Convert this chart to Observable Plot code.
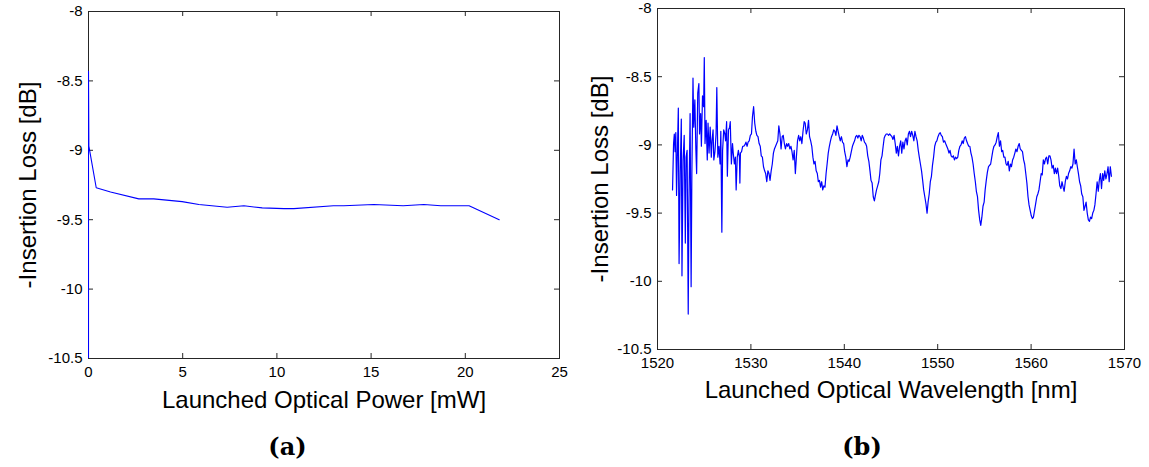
<!DOCTYPE html>
<html><head><meta charset="utf-8">
<script src="https://cdn.jsdelivr.net/npm/d3@7"></script>
<script src="https://cdn.jsdelivr.net/npm/@observablehq/plot@0.6"></script>
<style>
body{margin:0;background:#fff;}
#wrap{position:relative;width:1149px;height:467px;overflow:hidden;background:#fff;}
.panel{position:absolute;top:0;height:467px;}
.cap{position:absolute;top:432px;left:0;width:100%;text-align:center;line-height:30px;font-family:"DejaVu Serif",serif;font-weight:bold;font-size:24px;color:#000;}
</style></head><body>
<div id="wrap">
  <div class="panel" id="pa" style="left:0;width:575px"><div class="cap">(a)</div></div>
  <div class="panel" id="pb" style="left:575px;width:574px"><div class="cap">(b)</div></div>
</div>
<script>
// ---------- data ----------
const lossTicks = [-10.5, -10, -9.5, -9, -8.5, -8];
const powerTicks = [0, 5, 10, 15, 20, 25];
const wavelengthTicks = [1520, 1530, 1540, 1550, 1560, 1570];

const yLabel = "-Insertion Loss [dB]";
const xLabelA = "Launched Optical Power [mW]";
const xLabelB = "Launched Optical Wavelength [nm]";

// panel (a)
const power = [0, 0, 0.02, 0.41, 1.17, 2.67, 3.46, 4.97, 5.86, 7.36, 8.25, 9.22, 10.37, 10.9, 13.0, 13.55, 15.14, 16.7, 17.8, 18.7, 20.2, 21.8];
const lossA = [-10.5, -8.43, -8.97, -9.27, -9.30, -9.35, -9.35, -9.37, -9.39, -9.41, -9.40, -9.415, -9.42, -9.42, -9.40, -9.40, -9.39, -9.40, -9.39, -9.40, -9.40, -9.50];

// panel (b)
const wavelength = [
1521.61,1521.72,1521.80,1521.88,1521.96,1522.04,1522.12,1522.23,1522.31,1522.43,
1522.55,1522.62,1522.74,1522.86,1522.98,1523.06,1523.17,1523.29,1523.37,1523.49,
1523.60,1523.68,1523.80,1523.88,1524.00,1524.11,1524.19,1524.31,1524.43,1524.50,
1524.62,1524.70,1524.82,1524.94,1525.01,1525.09,1525.21,1525.33,1525.41,1525.52,
1525.64,1525.76,1525.84,1525.95,1526.03,1526.15,1526.27,1526.35,1526.46,1526.58,
1526.70,1526.78,1526.89,1526.97,1527.09,1527.21,1527.29,1527.40,1527.48,1527.60,
1527.72,1527.79,1527.91,1528.03,1528.11,1528.23,1528.34,1528.42,1528.54,1528.66,
1528.77,1528.82,
1528.88,1529.00,1529.12,1529.23,1529.35,1529.47,1529.59,1529.70,1529.82,1529.94,1530.06,1530.17,
1530.29,1530.41,1530.53,1530.64,1530.76,1530.88,1531.00,1531.11,1531.23,1531.35,1531.47,1531.58,
1531.70,1531.82,1531.94,1532.05,1532.17,1532.29,1532.41,1532.52,1532.64,1532.76,1532.88,1532.99,
1533.11,1533.23,1533.35,1533.46,1533.58,1533.70,1533.82,1533.93,1534.05,1534.17,1534.29,1534.40,
1534.52,1534.64,1534.76,1534.87,1534.99,1535.11,1535.23,1535.34,1535.46,1535.58,1535.70,1535.81,
1535.93,1536.05,1536.17,1536.28,1536.40,1536.52,1536.64,1536.75,1536.87,1536.99,1537.11,1537.22,
1537.34,1537.46,1537.58,1537.69,1537.81,1537.93,1538.05,1538.16,1538.28,1538.40,1538.52,1538.63,
1538.75,1538.87,1538.99,1539.10,1539.22,1539.34,1539.46,1539.57,1539.69,1539.81,1539.93,1540.04,
1540.16,1540.28,1540.40,1540.51,1540.63,1540.75,1540.87,1540.98,1541.10,1541.22,1541.34,1541.45,
1541.57,1541.69,1541.81,1541.92,1542.04,1542.16,1542.28,1542.39,1542.51,1542.63,1542.75,1542.86,
1542.98,1543.10,1543.22,1543.33,1543.45,1543.57,1543.69,1543.80,1543.92,1544.04,1544.16,1544.27,
1544.39,1544.51,1544.63,1544.74,1544.86,1544.98,1545.10,1545.21,1545.33,1545.45,1545.57,1545.68,
1545.80,1545.92,1546.04,1546.15,1546.27,1546.39,1546.51,1546.62,1546.74,1546.86,1546.98,1547.09,
1547.21,1547.33,1547.45,1547.56,1547.68,1547.80,1547.92,1548.03,1548.15,1548.27,1548.39,1548.50,
1548.62,1548.74,1548.86,1548.97,1549.09,1549.21,1549.33,1549.44,1549.56,1549.68,1549.80,1549.91,
1550.03,1550.15,1550.27,1550.38,1550.50,1550.62,1550.74,1550.85,1550.97,1551.09,1551.21,1551.32,
1551.44,1551.56,1551.68,1551.79,1551.91,1552.03,1552.15,1552.26,1552.38,1552.50,1552.62,1552.73,
1552.85,1552.97,1553.09,1553.20,1553.32,1553.44,1553.56,1553.67,1553.79,1553.91,1554.03,1554.14,
1554.26,1554.38,1554.50,1554.61,1554.73,1554.85,1554.97,1555.08,1555.20,1555.32,1555.44,1555.55,
1555.67,1555.79,1555.91,1556.02,1556.14,1556.26,1556.38,1556.49,1556.61,1556.73,1556.85,1556.96,
1557.08,1557.20,1557.32,1557.43,1557.55,1557.67,1557.79,1557.90,1558.02,1558.14,1558.26,1558.37,
1558.49,1558.61,1558.73,1558.84,1558.96,1559.08,1559.20,1559.31,1559.43,1559.55,1559.67,1559.78,
1559.90,1560.02,1560.14,1560.25,1560.37,1560.49,1560.61,1560.72,1560.84,1560.96,1561.08,1561.19,
1561.31,1561.43,1561.55,1561.66,1561.78,1561.90,1562.02,1562.13,1562.25,1562.37,1562.49,1562.60,
1562.72,1562.84,1562.96,1563.07,1563.19,1563.31,1563.43,1563.54,1563.66,1563.78,1563.90,1564.01,
1564.13,1564.25,1564.37,1564.48,1564.60,1564.72,1564.84,1564.95,1565.07,1565.19,1565.31,1565.42,
1565.54,1565.66,1565.78,1565.89,1566.01,1566.13,1566.25,1566.36,1566.48,1566.60,1566.72,1566.83,
1566.95,1567.07,1567.19,1567.30,1567.42,1567.54,1567.66,1567.77,1567.89,1568.01,1568.13,1568.24,
1568.36,1568.48,1568.60
];
const lossB = [
-9.33,-8.99,-8.92,-9.05,-8.91,-9.37,-9.09,-8.73,-9.87,-9.21,
-8.81,-9.96,-9.11,-8.93,-9.72,-9.09,-9.04,-10.24,-9.41,-8.77,
-10.04,-9.21,-8.51,-8.87,-8.67,-9.04,-9.21,-8.62,-8.55,-8.92,
-8.77,-9.01,-8.64,-8.72,-8.36,-8.99,-8.82,-9.11,-8.84,-9.06,
-8.87,-9.09,-8.97,-8.89,-9.11,-9.05,-8.92,-8.58,-9.09,-9.01,
-9.14,-8.90,-9.64,-9.04,-8.89,-8.92,-8.97,-8.83,-9.23,-8.89,
-8.87,-8.83,-9.14,-8.99,-9.06,-9.14,-9.09,-9.33,-9.09,-9.04,
-9.09,-9.28,
-9.06,-9.05,-9.01,-9.01,-9.00,-8.98,-9.01,-8.98,-8.97,-8.93,
-8.92,-8.79,-8.72,-8.84,-8.90,-8.93,-8.94,-8.99,-9.01,-9.08,
-9.09,-9.16,-9.19,-9.21,-9.27,-9.19,-9.21,-9.26,-9.19,-9.14,
-9.06,-9.03,-9.01,-8.99,-8.97,-8.86,-8.92,-9.03,-8.94,-8.93,
-8.99,-9.03,-8.99,-9.01,-8.99,-9.03,-9.01,-9.05,-9.11,-9.04,
-9.21,-9.09,-8.97,-8.93,-8.97,-8.94,-8.99,-8.90,-8.83,-8.84,
-8.92,-8.89,-8.82,-8.94,-8.97,-9.01,-9.09,-9.14,-9.12,-9.19,
-9.21,-9.27,-9.26,-9.31,-9.27,-9.33,-9.30,-9.31,-9.21,-9.14,
-9.06,-9.01,-8.97,-8.94,-8.92,-8.89,-8.90,-8.93,-8.86,-8.90,
-8.94,-8.97,-8.94,-8.98,-8.99,-9.05,-9.09,-9.16,-9.11,-9.12,
-9.09,-9.05,-9.01,-8.99,-8.97,-8.94,-8.93,-8.95,-8.93,-8.94,
-8.97,-8.93,-8.95,-8.98,-8.99,-9.01,-9.08,-9.12,-9.19,-9.26,
-9.28,-9.38,-9.41,-9.37,-9.33,-9.30,-9.27,-9.21,-9.11,-9.08,
-9.01,-8.95,-8.93,-8.92,-8.92,-8.93,-8.92,-8.93,-8.94,-8.96,
-8.93,-8.99,-9.06,-9.01,-9.08,-9.01,-8.97,-9.06,-8.98,-9.03,
-8.97,-8.95,-9.00,-8.92,-8.90,-8.94,-8.90,-8.93,-8.97,-8.90,
-8.94,-8.97,-9.04,-9.09,-9.14,-9.19,-9.26,-9.33,-9.38,-9.43,
-9.50,-9.42,-9.36,-9.27,-9.23,-9.15,-9.09,-9.01,-8.98,-8.97,
-8.94,-8.92,-8.91,-8.93,-8.94,-8.98,-8.97,-8.99,-9.01,-9.03,
-9.06,-9.04,-9.08,-9.09,-9.08,-9.11,-9.09,-9.10,-9.09,-9.04,
-9.01,-9.00,-8.97,-8.99,-8.95,-8.94,-8.97,-8.99,-9.01,-9.01,
-9.06,-9.09,-9.14,-9.21,-9.27,-9.34,-9.38,-9.48,-9.55,-9.59,
-9.53,-9.45,-9.42,-9.33,-9.26,-9.20,-9.16,-9.15,-9.14,-9.09,
-9.04,-9.01,-9.00,-8.98,-8.94,-8.91,-9.01,-8.97,-9.05,-9.04,
-9.09,-9.09,-9.14,-9.15,-9.12,-9.19,-9.14,-9.16,-9.11,-9.09,
-9.06,-9.03,-9.05,-9.01,-8.99,-9.03,-9.04,-9.05,-9.11,-9.14,
-9.21,-9.28,-9.38,-9.44,-9.48,-9.52,-9.54,-9.53,-9.48,-9.43,
-9.38,-9.36,-9.33,-9.27,-9.21,-9.22,-9.11,-9.14,-9.10,-9.09,
-9.14,-9.08,-9.08,-9.11,-9.17,-9.15,-9.21,-9.17,-9.21,-9.17,
-9.23,-9.30,-9.32,-9.27,-9.31,-9.34,-9.27,-9.23,-9.25,-9.21,
-9.19,-9.16,-9.17,-9.14,-9.03,-9.14,-9.11,-9.16,-9.21,-9.27,
-9.30,-9.36,-9.38,-9.48,-9.45,-9.42,-9.50,-9.55,-9.56,-9.53,
-9.54,-9.50,-9.48,-9.44,-9.36,-9.27,-9.34,-9.26,-9.21,-9.32,
-9.21,-9.26,-9.19,-9.25,-9.21,-9.16,-9.27,-9.16,-9.23
];

// ---------- drawing ----------
function panel(el, o) {
  const H = 415;
  const ph = H - o.mt - o.mb, pw = o.width - o.ml - o.mr;
  const axisColor = "#262626";
  const fmt = d => String(d);
  const chart = Plot.plot({
    width: o.width, height: H,
    marginLeft: o.ml, marginRight: o.mr, marginTop: o.mt, marginBottom: o.mb,
    x: {domain: o.xDomain}, y: {domain: [-10.5, -8]},
    style: {fontFamily: '"Liberation Sans", Arial, sans-serif', fontSize: "15px", color: "#000", background: "#fff", overflow: "visible"},
    marks: [
      Plot.frame({stroke: axisColor}),
      Plot.tickX(o.xTicks, {x: d => d, insetTop: ph - 5, stroke: axisColor}),
      Plot.tickX(o.xTicks, {x: d => d, insetBottom: ph - 5, stroke: axisColor}),
      Plot.tickY(lossTicks, {y: d => d, insetRight: pw - 5, stroke: axisColor}),
      Plot.tickY(lossTicks, {y: d => d, insetLeft: pw - 5, stroke: axisColor}),
      Plot.axisX(o.xTicks, {tickSize: 0, tickPadding: 8, tickFormat: fmt, label: null}),
      Plot.axisY(lossTicks, {tickSize: 0, tickPadding: 6, tickFormat: fmt, label: null}),
      Plot.line(o.xs.map((x, i) => [x, o.ys[i]]), {stroke: "#0000ff", strokeWidth: o.sw, clip: true}),
      Plot.text([o.xLabel], {frameAnchor: "bottom", dy: o.xlabDy, text: d => d, fontSize: 24, textAnchor: "middle", lineAnchor: "middle"}),
      Plot.text([yLabel], {frameAnchor: "left", dx: o.ylabDx, rotate: -90, text: d => d, fontSize: 24, textAnchor: "middle", lineAnchor: "middle"})
    ]
  });
  el.prepend(chart);
}

panel(document.getElementById("pa"), {
  xs: power, ys: lossA, xDomain: [0, 25], xTicks: powerTicks, xLabel: xLabelA,
  width: 575, ml: 88, mr: 16, mt: 11, mb: 57, ylabDx: -60, xlabDy: 42, sw: 1.1
});
panel(document.getElementById("pb"), {
  xs: wavelength, ys: lossB, xDomain: [1520, 1570], xTicks: wavelengthTicks, xLabel: xLabelB,
  width: 574, ml: 82, mr: 25, mt: 8, mb: 66, ylabDx: -57, xlabDy: 41, sw: 1.2
});
</script>
</body></html>
